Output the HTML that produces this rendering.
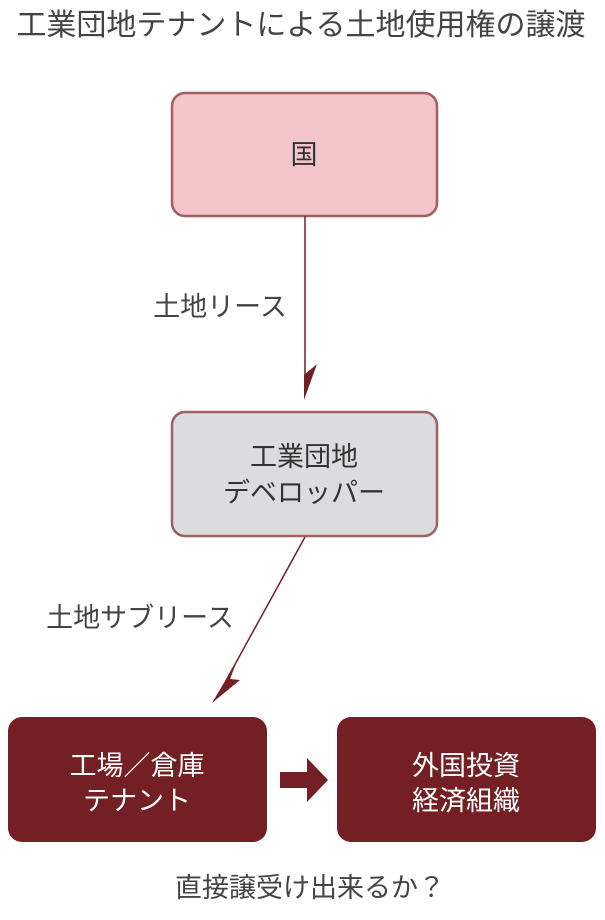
<!DOCTYPE html>
<html><head><meta charset="utf-8"><style>
body{margin:0;background:#fff;}
svg text{font-family:"Liberation Sans","Noto Sans CJK JP",sans-serif;}
</style></head><body>
<svg width="605" height="915" viewBox="0 0 605 915" xmlns="http://www.w3.org/2000/svg">
<text x="301" y="35" font-size="30" fill="#444" text-anchor="middle">工業団地テナントによる土地使用権の譲渡</text>
<rect x="172" y="93" width="265" height="123" rx="13" fill="#f4c6c9" stroke="#a06064" stroke-width="2.5"/>
<text x="304" y="164" font-size="27" fill="#333" text-anchor="middle">国</text>
<line x1="305" y1="216" x2="305" y2="385" stroke="#741f24" stroke-width="1.5"/>
<polygon points="304,375 317,364 304,400" fill="#741f24"/>
<text x="220" y="316" font-size="27" fill="#444" text-anchor="middle">土地リース</text>
<rect x="172" y="412" width="265" height="124" rx="13" fill="#dcdcdf" stroke="#a06064" stroke-width="2.5"/>
<text x="304" y="466" font-size="27" fill="#333" text-anchor="middle">工業団地</text>
<text x="304" y="502" font-size="27" fill="#333" text-anchor="middle">デベロッパー</text>
<line x1="305" y1="537" x2="222" y2="688" stroke="#741f24" stroke-width="1.5"/>
<polygon points="212,703 240,680 230,679 237,661" fill="#741f24"/>
<text x="140" y="627" font-size="27" fill="#444" text-anchor="middle">土地サブリース</text>
<rect x="8" y="717" width="259" height="125" rx="14" fill="#741f24"/>
<text x="137" y="775" font-size="27" fill="#fff" text-anchor="middle">工場／倉庫</text>
<text x="137" y="810" font-size="27" fill="#fff" text-anchor="middle">テナント</text>
<rect x="337" y="717" width="259" height="125" rx="14" fill="#741f24"/>
<text x="466" y="775" font-size="27" fill="#fff" text-anchor="middle">外国投資</text>
<text x="466" y="810" font-size="27" fill="#fff" text-anchor="middle">経済組織</text>
<polygon points="280,772 307,772 307,758 328,780 307,802 307,788 280,788" fill="#741f24"/>
<text x="310" y="897" font-size="27" fill="#444" text-anchor="middle">直接譲受け出来るか？</text>
</svg>
</body></html>
